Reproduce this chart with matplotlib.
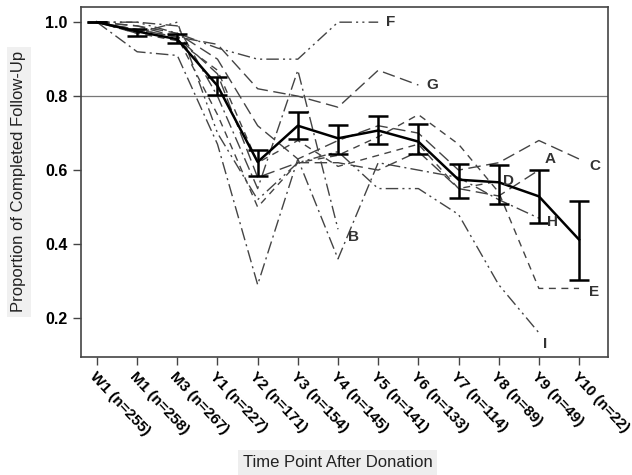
import matplotlib.pyplot as plt
import numpy as np

plt.rcParams['font.family'] = ['Liberation Sans', 'DejaVu Sans']

timepoints = ['W1 (n=255)', 'M1 (n=258)', 'M3 (n=267)', 'Y1 (n=227)', 'Y2 (n=171)',
              'Y3 (n=154)', 'Y4 (n=145)', 'Y5 (n=141)', 'Y6 (n=133)', 'Y7 (n=114)',
              'Y8 (n=89)', 'Y9 (n=49)', 'Y10 (n=22)']

# overall proportion with 95% CI
mean = [1.0, 0.975, 0.954, 0.828, 0.622, 0.720, 0.686, 0.707, 0.677, 0.574, 0.567, 0.529, 0.412]
upper = [1.0, 0.981, 0.968, 0.853, 0.655, 0.758, 0.722, 0.747, 0.725, 0.617, 0.614, 0.600, 0.517]
lower = [1.0, 0.963, 0.943, 0.803, 0.583, 0.684, 0.644, 0.671, 0.644, 0.525, 0.509, 0.458, 0.304]

# transplant centers A-I
center_A = [1.0, 0.98, 0.96, 0.86, 0.58, 0.62, 0.62, 0.60, 0.65, 0.55, 0.53, 0.60]
center_B = [1.0, 1.0, 0.99, 0.80, 0.55, 0.87, 0.44]
center_C = [1.0, 0.99, 0.97, 0.90, 0.72, 0.63, 0.68, 0.72, 0.70, 0.60, 0.62, 0.68, 0.63]
center_D = [1.0, 0.97, 0.95, 0.87, 0.62, 0.68, 0.61, 0.64, 0.67, 0.55, 0.57]
center_E = [1.0, 0.98, 0.96, 0.75, 0.50, 0.62, 0.64, 0.69, 0.75, 0.67, 0.54, 0.28, 0.28]
center_F = [1.0, 1.0, 0.97, 0.93, 0.90, 0.90, 1.0, 1.0]
center_G = [1.0, 0.99, 0.96, 0.94, 0.82, 0.80, 0.77, 0.87, 0.83]
center_H = [1.0, 0.92, 0.91, 0.67, 0.29, 0.63, 0.36, 0.62, 0.60, 0.58, 0.52, 0.47]
center_I = [1.0, 0.97, 1.0, 0.70, 0.52, 0.62, 0.65, 0.55, 0.55, 0.48, 0.29, 0.16]

centers = {'A': center_A, 'B': center_B, 'C': center_C, 'D': center_D, 'E': center_E,
           'F': center_F, 'G': center_G, 'H': center_H, 'I': center_I}

long_dash = (0, (9, 4))
dash = (0, (5, 4))
dash_dot = (0, (9, 3, 1.5, 3))
dash_dot_dot = (0, (9, 3, 1.5, 3, 1.5, 3))
styles = {'A': long_dash, 'B': dash_dot, 'C': long_dash, 'D': dash, 'E': dash,
          'F': dash_dot_dot, 'G': long_dash, 'H': dash_dot, 'I': dash_dot_dot}
label_offset = {'A': (0.15, 0.03), 'B': (0.25, -0.02), 'C': (0.25, -0.02), 'D': (0.1, 0.0),
                'E': (0.25, -0.01), 'F': (0.2, 0.0), 'G': (0.2, 0.0), 'H': (0.2, -0.01),
                'I': (0.1, -0.03)}

fig = plt.figure(figsize=(6.32, 4.75), dpi=100)
ax = fig.add_axes([0.128, 0.248, 0.834, 0.738])

ax.axhline(0.8, color='#777777', lw=0.9, zorder=1)

for name, vals in centers.items():
    x = np.arange(len(vals))
    ax.plot(x, vals, color='#444444', lw=1.0, linestyle=styles[name], zorder=2)
    dx, dy = label_offset[name]
    ax.text(x[-1] + dx, vals[-1] + dy, name, fontsize=11, fontweight='bold',
            color='#333333', ha='left', va='center', zorder=4)

x = np.arange(len(mean))
mean = np.array(mean)
yerr = [mean - np.array(lower), np.array(upper) - mean]
ax.errorbar(x, mean, yerr=yerr, color='black', lw=1.8, capsize=7.5, capthick=1.8,
            elinewidth=1.8, zorder=3)

ax.set_xlim(-0.4, 12.72)
ax.set_ylim(0.094, 1.042)
ax.set_yticks([0.2, 0.4, 0.6, 0.8, 1.0])
ax.set_yticklabels(['0.2', '0.4', '0.6', '0.8', '1.0'], fontsize=11.5, fontweight='bold')
ax.set_xticks(x)
ax.set_xticklabels(timepoints, rotation=-47, ha='left', va='top', rotation_mode='anchor',
                   fontsize=11, fontweight='bold')
ax.tick_params(direction='out', length=6, width=1, color='#444444')
ax.tick_params(axis='x', pad=3)
for s in ax.spines.values():
    s.set_color('#444444')
    s.set_linewidth(1.2)

fig.text(0.03, 0.617, 'Proportion of Completed Follow-Up', rotation=90, ha='center',
         va='center', fontsize=12, color='#222222',
         bbox=dict(boxstyle='square,pad=0.25', facecolor='#f0f0f0', edgecolor='none'))
fig.text(0.534, 0.026, 'Time Point After Donation', ha='center', va='center', fontsize=12,
         color='#222222',
         bbox=dict(boxstyle='square,pad=0.3', facecolor='#eeeeee', edgecolor='none'))

fig.savefig('out.png', dpi=100)
